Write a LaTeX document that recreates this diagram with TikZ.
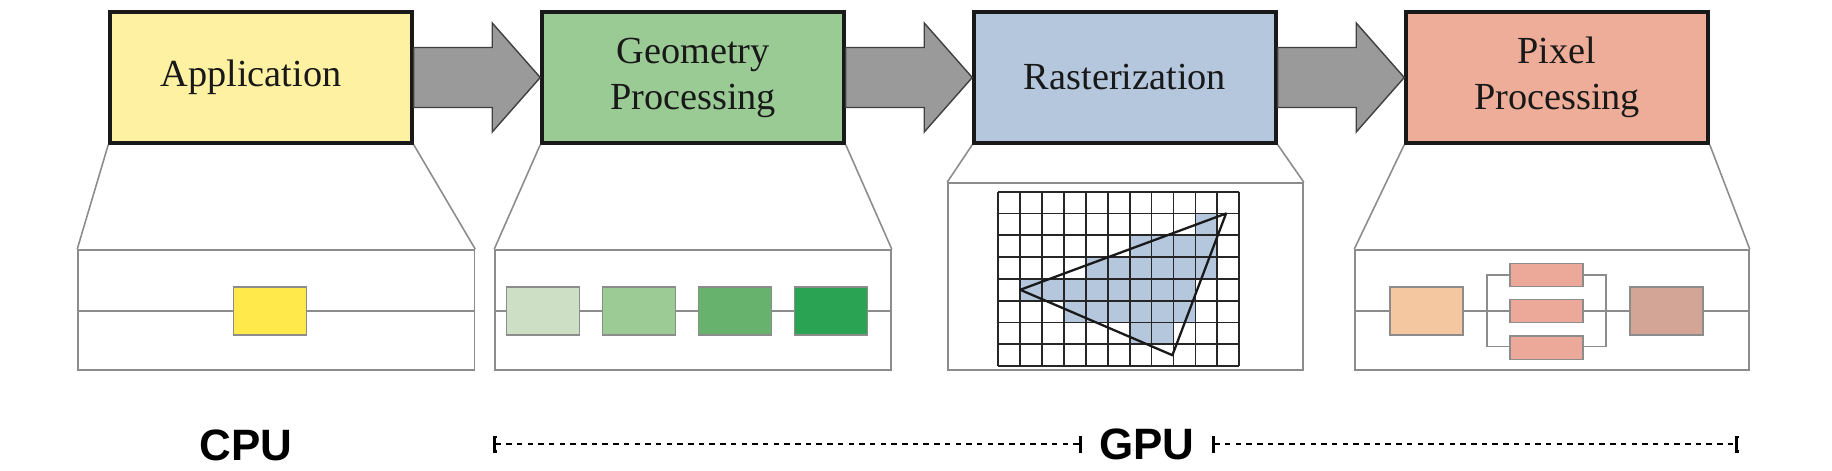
\documentclass[tikz,border=0pt]{standalone}
\usepackage{fontspec}
\setmainfont{Liberation Serif}
\newfontfamily\unitfont{Liberation Sans}
\usepackage{xcolor}
\usepackage{tikz}
\usetikzlibrary{arrows.meta}

\definecolor{appfill}{HTML}{FEF2A2}
\definecolor{geofill}{HTML}{9BCB95}
\definecolor{rasfill}{HTML}{B4C7DC}
\definecolor{pixfill}{HTML}{EEAD99}
\definecolor{arrowgray}{HTML}{9A9A9A}
\definecolor{appunit}{HTML}{FFE94B}
\definecolor{geoA}{HTML}{CDE0C6}
\definecolor{geoB}{HTML}{9DCB96}
\definecolor{geoC}{HTML}{67B26C}
\definecolor{geoD}{HTML}{2AA352}
\definecolor{pixA}{HTML}{F5C7A1}
\definecolor{pixB}{HTML}{ECA999}
\definecolor{pixC}{HTML}{D3A597}

\begin{document}
\begin{tikzpicture}[
    stage/.style={draw=black!90, line width=1pt, minimum width=3.02cm, minimum height=1.31cm,
                  align=center, text=black!90, font=\fontsize{10.9}{13.1}\selectfont},
    fatarrow/.style={draw=black!75, line width=0.4pt, fill=arrowgray},
    panel/.style={draw=black!45, line width=0.45pt, fill=white, inner sep=0pt},
    unit/.style={draw=black!45, line width=0.45pt},
    unitbox/.style={unit, minimum width=0.73cm, minimum height=0.48cm, inner sep=0pt},
    subbox/.style={unit, fill=pixB, minimum width=0.73cm, minimum height=0.233cm, inner sep=0pt},
    span/.style={line width=0.8pt, dash pattern=on 0.55mm off 0.52mm,
                 {Bar[width=1.7mm,length=1pt]}-{Bar[width=1.7mm,length=1pt]}},
    proc/.style={font=\unitfont\bfseries\fontsize{12.5}{15}\selectfont}
]
    \useasboundingbox (0,0) rectangle (18.32,4.70);
    % Pipeline stages
    \node[stage, fill=appfill] (app) at ( 2.61, 3.925) {Application\hspace*{2mm}};
    \node[stage, fill=geofill] (geo) at ( 6.93, 3.925) {Geometry\\Processing};
    \node[stage, fill=rasfill] (ras) at (11.25, 3.925) {Rasterization};
    \node[stage, fill=pixfill] (pix) at (15.57, 3.925) {Pixel\\Processing};
    % Fat arrows between stages
    \foreach \a/\b in {app/geo, geo/ras, ras/pix}
        \draw[fatarrow] ([yshift=3mm]\a.east) -- ([xshift=-4.8mm,yshift=3mm]\b.west)
            -- ([xshift=-4.8mm,yshift=5.45mm]\b.west) -- (\b.west)
            -- ([xshift=-4.8mm,yshift=-5.45mm]\b.west) -- ([xshift=-4.8mm,yshift=-3mm]\b.west)
            -- ([yshift=-3mm]\a.east) -- cycle;
    % Application zoom
    \node[panel, minimum width=3.965cm, minimum height=1.2cm] (appzoom) at (2.7625, 1.60) {};
    \draw[unit] (app.south west) -- (appzoom.north west);
    \draw[unit] (app.south east) -- (appzoom.north east);
    \draw[unit] ([yshift=-0.1mm]appzoom.west) -- ([yshift=-0.1mm]appzoom.east);
    \node[unitbox, fill=appunit] (appu) at (2.70, 1.59) {};
    % Geometry zoom
    \node[panel, minimum width=3.96cm, minimum height=1.2cm] (geozoom) at (6.93, 1.60) {};
    \draw[unit] (geo.south west) -- (geozoom.north west);
    \draw[unit] (geo.south east) -- (geozoom.north east);
    \draw[unit] ([yshift=-0.1mm]geozoom.west) -- ([yshift=-0.1mm]geozoom.east);
    \foreach \x/\c [count=\i] in {5.43/geoA, 6.39/geoB, 7.35/geoC, 8.31/geoD}
        \node[unitbox, fill=\c] (geou\i) at (\x, 1.59) {};
    % Rasterization zoom
    \node[panel, minimum width=3.55cm, minimum height=1.87cm] (raszoom) at (11.255, 1.935) {};
    \draw[unit] (ras.south west) -- (raszoom.north west);
    \draw[unit] (ras.south east) -- (raszoom.north east);
    \begin{scope}[shift={(9.983,2.783)}, x=0.219cm, y=-0.218cm]
        % covered fragments
        \foreach \r/\a/\b in {1/9/10, 2/6/10, 3/4/10, 4/1/9, 5/3/9, 6/6/8}
            \fill[rasfill] (\a,\r) rectangle (\b,\r+1);
        \foreach \i in {0,...,11}
            \draw[black!85, line width=0.5pt] (\i,0) -- (\i,8);
        \foreach \j in {0,...,8}
            \draw[black!85, line width=0.5pt] (0,\j) -- (11,\j);
        \coordinate (triA) at (1,4.5);
        \coordinate (triB) at (10.4,1);
        \coordinate (triC) at (7.95,7.5);
        \draw[black!90, line width=0.65pt, line join=round] (triA) -- (triB) -- (triC) -- cycle;
    \end{scope}
    % Pixel zoom
    \node[panel, minimum width=3.94cm, minimum height=1.2cm] (pixzoom) at (15.52, 1.60) {};
    \draw[unit] (pix.south west) -- (pixzoom.north west);
    \draw[unit] (pix.south east) -- (pixzoom.north east);
    \draw[unit] ([yshift=-0.1mm]pixzoom.west) -- ([yshift=-0.1mm]pixzoom.east);
    \node[unit, minimum width=1.193cm, minimum height=0.717cm, inner sep=0pt] (fork) at (15.4635, 1.5915) {};
    \node[unitbox, fill=pixA] (pixu1) at (14.267, 1.59) {};
    \node[subbox] (pixs1) at (15.467, 1.95) {};
    \node[subbox] (pixs2) at (15.467, 1.59) {};
    \node[subbox] (pixs3) at (15.467, 1.2235) {};
    \node[unitbox, fill=pixC] (pixu2) at (16.664, 1.59) {};
    % CPU / GPU
    \node[proc] (cpu) at (2.46, 0.25) {CPU};
    \node[proc, inner xsep=1.65mm] (gpu) at (11.47, 0.26) {GPU};
    \coordinate (gpuL) at (4.93, 0.26);
    \coordinate (gpuR) at (17.385, 0.26);
    \draw[span] (gpuL) -- (gpu.west);
    \draw[span] (gpu.east) -- (gpuR);
\end{tikzpicture}
\end{document}
